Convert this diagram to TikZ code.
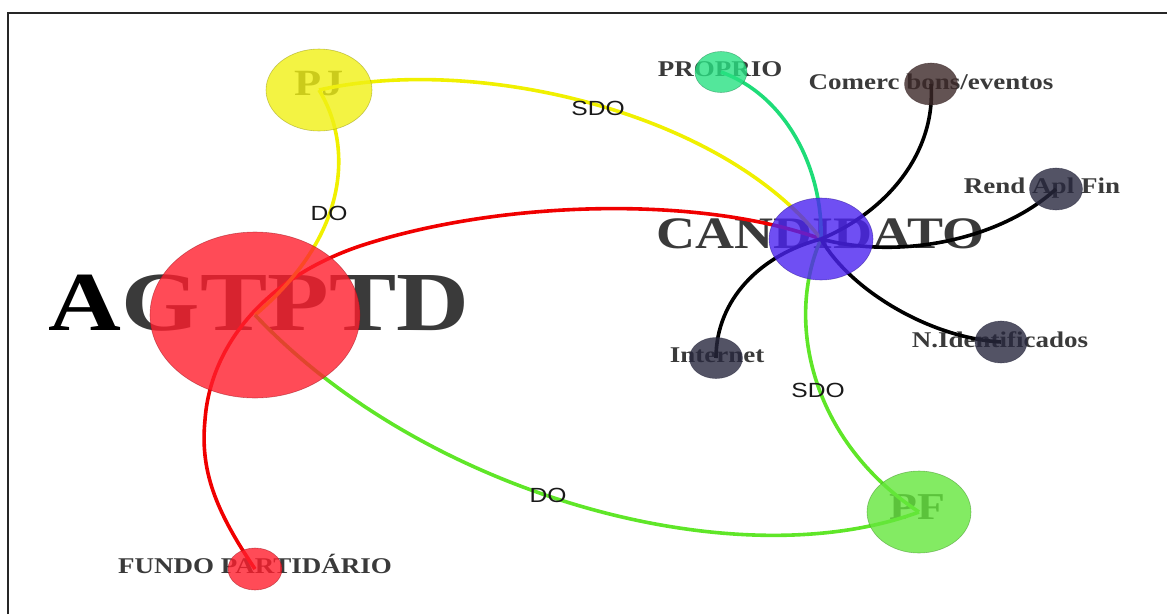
\documentclass[tikz,border=0pt]{standalone}
\usepackage{fontspec}
\setmainfont{Liberation Serif}
\newfontfamily\edgefont{Liberation Sans}
\usetikzlibrary{shapes.geometric}

\pgfdeclarelayer{labels}
\pgfdeclarelayer{links}
\pgfsetlayers{labels,links,main}

\definecolor{agtred}{RGB}{255,30,45}
\definecolor{pjyellow}{RGB}{240,240,20}
\definecolor{candblue}{RGB}{75,35,240}
\definecolor{pfgreen}{RGB}{100,230,60}
\definecolor{propgreen}{RGB}{40,225,130}
\definecolor{comercbrown}{RGB}{60,40,40}
\definecolor{srcslate}{RGB}{40,40,62}
\definecolor{labelgray}{RGB}{58,58,58}
\definecolor{linkred}{RGB}{240,0,0}
\definecolor{linkyellow}{RGB}{240,240,0}
\definecolor{linkgreen}{RGB}{95,230,40}
\definecolor{linkspring}{RGB}{30,220,120}

\newcommand{\widen}[1]{\scalebox{1.2}[1]{#1}}

\begin{document}
\begin{tikzpicture}[
  x=1pt, y=-1pt,
  vertex/.style={
    ellipse,
    inner sep=0pt,
    fill opacity=0.8,
    draw opacity=0.5,
    line width=0.6pt
  },
  vlabel/.style={
    anchor=base,
    inner sep=0pt,
    text=labelgray
  },
  small vlabel/.style={
    vlabel,
    font=\fontsize{22.5}{25}\selectfont\bfseries
  },
  link/.style={
    line width=3.6pt
  },
  edge label/.style={
    anchor=base,
    inner sep=0pt,
    font=\edgefont\fontsize{20.5}{22}\selectfont,
    text=black!90
  }
]
\useasboundingbox (0,0) rectangle (1167,614);
\draw[line width=2.5pt, black!85] (8,614) |- (1167,13);

% Nodes
\node[vertex, minimum width=210, minimum height=166, fill=agtred, draw=agtred!60!black] (agt) at (255,315) {};
\node[vertex, minimum width=106, minimum height=82, fill=pjyellow, draw=pjyellow!60!black] (pj) at (319,90) {};
\node[vertex, minimum width=104, minimum height=82, fill=candblue, draw=candblue!60!black] (cand) at (821,239) {};
\node[vertex, minimum width=104, minimum height=82, fill=pfgreen, draw=pfgreen!60!black] (pf) at (919,512) {};
\node[vertex, minimum width=52, minimum height=41, fill=propgreen, draw=propgreen!60!black] (prop) at (721,72) {};
\node[vertex, minimum width=53, minimum height=42, fill=comercbrown, draw=comercbrown] (comerc) at (931,84) {};
\node[vertex, minimum width=53, minimum height=42, fill=srcslate, draw=srcslate] (rend) at (1056,189) {};
\node[vertex, minimum width=53, minimum height=41, fill=srcslate, draw=srcslate] (inet) at (716,358) {};
\node[vertex, minimum width=52, minimum height=42, fill=srcslate, draw=srcslate] (nid) at (1001,342) {};
\node[vertex, minimum width=54, minimum height=42, fill=agtred, draw=agtred!60!black] (fundo) at (255,569) {};

% Names
\begin{pgfonlayer}{labels}
\node[vlabel, font=\fontsize{84}{90}\selectfont\bfseries] (agt-name) at (259,330) {\widen{{\color{black}A}GTPTD}};
\node[vlabel, font=\fontsize{45}{50}\selectfont\bfseries] (cand-name) at (821,248) {\widen{CANDIDATO}};
\node[vlabel, font=\fontsize{37}{40}\selectfont\bfseries] (pj-name) at (319,95) {\widen{PJ}};
\node[vlabel, font=\fontsize{38}{40}\selectfont\bfseries] (pf-name) at (917,519) {\widen{PF}};
\node[small vlabel] (prop-name) at (720,76) {\widen{PROPRIO}};
\node[small vlabel] (comerc-name) at (931,89) {\widen{Comerc bons/eventos}};
\node[small vlabel] (rend-name) at (1042,193) {\widen{Rend Apl Fin}};
\node[small vlabel] (nid-name) at (1000,347) {\widen{N.Identificados}};
\node[small vlabel] (inet-name) at (717,362) {\widen{Internet}};
\node[small vlabel] (fundo-name) at (255,573) {\widen{FUNDO PARTIDÁRIO}};
\end{pgfonlayer}

% Relationships
\begin{pgfonlayer}{links}
\draw[link, linkred] (fundo.center) .. controls (215,510) and (200,470) .. (205,420)
  .. controls (210,350) and (260,280) .. (360,246)
  .. controls (500,200) and (700,195) .. (cand.center);
\draw[link, linkyellow] (pj.center) .. controls (350,140) and (355,230) .. (agt.center);
\draw[link, linkyellow] (pj.center) .. controls (478,54) and (723,113) .. (cand.center);
\draw[link, linkgreen] (agt.center) .. controls (425,495) and (735,580) .. (pf.center);
\draw[link, linkgreen] (cand.center) .. controls (785,320) and (810,440) .. (pf.center);
\draw[link, linkspring] (prop.center) .. controls (787,96) and (823,170) .. (cand.center);
\draw[link, black] (comerc.center) .. controls (936,150) and (890,210) .. (cand.center);
\draw[link, black] (cand.center) .. controls (900,260) and (1000,240) .. (rend.center);
\draw[link, black] (inet.center) .. controls (716,300) and (760,255) .. (cand.center);
\draw[link, black] (cand.center) .. controls (850,290) and (930,338) .. (nid.center);
\end{pgfonlayer}

% Link labels
\node[edge label] (do-pj) at (329,220) {\widen{DO}};
\node[edge label] (sdo-pj) at (598,115) {\widen{SDO}};
\node[edge label] (sdo-pf) at (818,397) {\widen{SDO}};
\node[edge label] (do-pf) at (548,502) {\widen{DO}};

\end{tikzpicture}
\end{document}
